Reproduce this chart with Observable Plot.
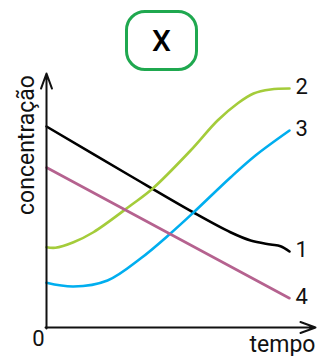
<!DOCTYPE html>
<html><head><meta charset="utf-8">
<script src="https://cdn.jsdelivr.net/npm/d3@7"></script>
<script src="https://cdn.jsdelivr.net/npm/@observablehq/plot@0.6"></script>
<style>
html,body{margin:0;padding:0;background:#fff;}
#wrap{width:321px;height:356px;position:relative;overflow:hidden;font-family:Roboto,sans-serif;}
#head{position:relative;height:73px;}
#badge{position:absolute;left:125px;top:10px;width:73px;height:61px;box-sizing:border-box;border:3px solid #1fa84f;border-radius:20px;display:flex;align-items:center;justify-content:center;font-size:30px;font-weight:500;color:#000;line-height:1;}
#chart svg{display:block;}
</style></head><body>
<div id="wrap"><div id="head"><div id="badge"></div></div><div id="chart"></div></div>
<script>
const title = "X";
const xLabel = "tempo";
const yLabel = "concentração";
const originLabel = "0";
const seriesNames = ["1", "2", "3", "4"];
const seriesColors = ["#000000", "#a4cc3a", "#00aeef", "#b5628f"];

const time1 = [0, 3.46, 6.05, 7.57, 8.40, 9.22, 9.63, 10];
const conc1 = [8.04, 6.06, 4.60, 3.81, 3.48, 3.32, 3.25, 3.04];
const time2 = [0, 0.37, 1.11, 1.93, 3.46, 4.36, 5.93, 7.04, 7.86, 8.52, 9.22, 10];
const conc2 = [3.21, 3.19, 3.41, 3.81, 4.88, 5.55, 7.08, 8.28, 8.96, 9.36, 9.52, 9.56];
const time3 = [0, 1.11, 2.51, 3.87, 5.10, 6.05, 7.57, 8.60, 10];
const conc3 = [1.79, 1.64, 1.88, 2.76, 3.76, 4.60, 6.00, 6.88, 7.88];
const time4 = [0, 10];
const conc4 = [6.40, 1.17];

const xAxisEnd = 11.07;
const yAxisEnd = 10.16;
const yLabelAt = 7.3;

document.getElementById("badge").textContent = title;

const series = [
  {name: seriesNames[0], t: time1, c: conc1},
  {name: seriesNames[1], t: time2, c: conc2},
  {name: seriesNames[2], t: time3, c: conc3},
  {name: seriesNames[3], t: time4, c: conc4}
];
const rows = [];
series.forEach(s => s.t.forEach((t, i) => rows.push({serie: s.name, t, c: s.c[i]})));
const ends = series.map(s => ({serie: s.name, t: s.t[s.t.length - 1], c: s.c[s.c.length - 1]}));

const plot = Plot.plot({
  width: 321, height: 283,
  marginLeft: 46, marginRight: 32, marginTop: 4, marginBottom: 29,
  x: {domain: [0, 10], axis: null},
  y: {domain: [0, 10], axis: null},
  color: {domain: seriesNames, range: seriesColors},
  style: {fontFamily: "Roboto, sans-serif", fontSize: "22px", overflow: "visible", background: "white", color: "#111"},
  marks: [
    Plot.line(rows, {x: "t", y: "c", z: "serie", stroke: "serie", strokeWidth: 2.6, curve: "catmull-rom"}),
    Plot.arrow([{x1: 0, y1: -0.04, x2: 0, y2: yAxisEnd}], {x1: "x1", y1: "y1", x2: "x2", y2: "y2", stroke: "#111", strokeWidth: 2, headLength: 12, headAngle: 40}),
    Plot.arrow([{x1: -0.04, y1: 0, x2: xAxisEnd, y2: 0}], {x1: "x1", y1: "y1", x2: "x2", y2: "y2", stroke: "#111", strokeWidth: 2, headLength: 12, headAngle: 40}),
    Plot.text(ends, {x: "t", y: "c", text: "serie", textAnchor: "start", dx: 6, dy: -1.5, fill: "#111"}),
    Plot.text([originLabel], {x: () => 0, y: () => 0, text: d => d, dx: -8, dy: 11, fill: "#111"}),
    Plot.text([xLabel], {x: () => xAxisEnd, y: () => 0, text: d => d, textAnchor: "end", lineAnchor: "bottom", dy: 24, fill: "#111", fontSize: 23}),
    Plot.text([yLabel], {x: () => 0, y: () => yLabelAt, text: d => d, rotate: -90, dx: -20, fill: "#111", fontSize: 23})
  ]
});
document.getElementById("chart").appendChild(plot);
</script>
</body></html>
